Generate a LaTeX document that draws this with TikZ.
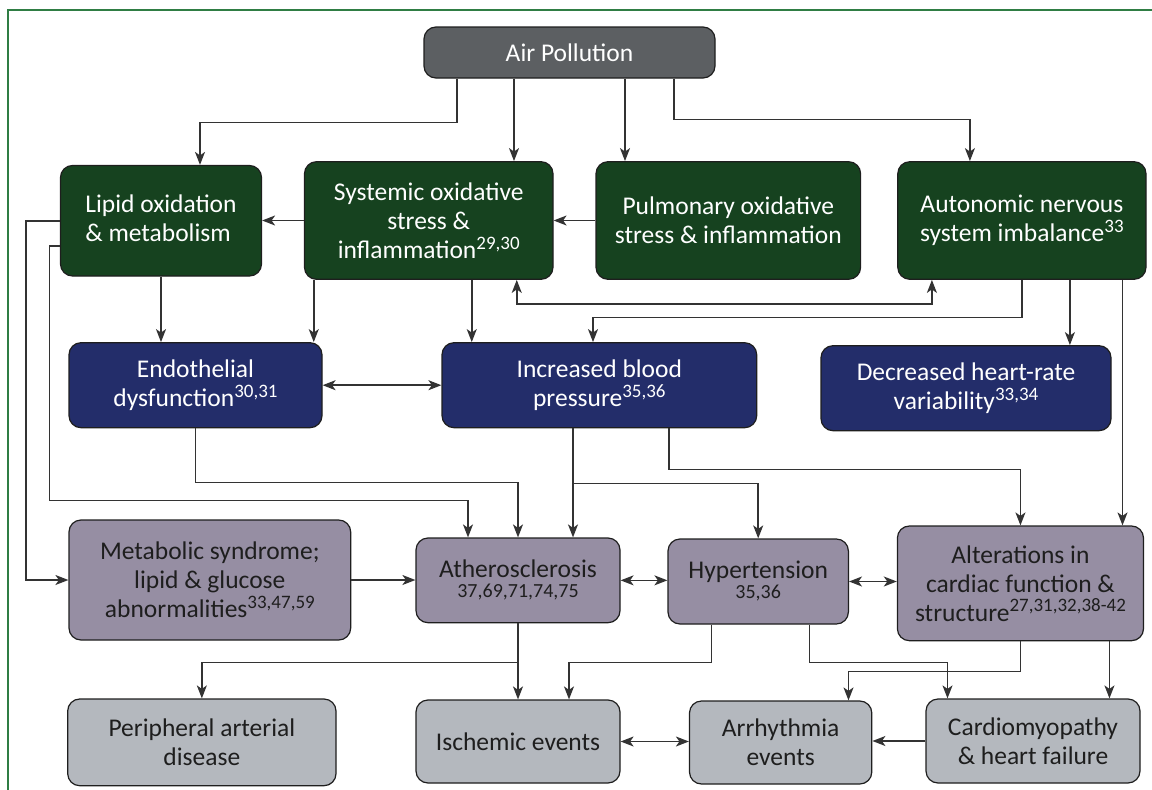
\documentclass[tikz,border=0pt]{standalone}
\usepackage{fontspec}
\setmainfont{Carlito}
\usetikzlibrary{positioning, arrows.meta}
\definecolor{airgray}{HTML}{5C5F62}
\definecolor{darkgreen}{HTML}{16421F}
\definecolor{navyblue}{HTML}{232D6A}
\definecolor{mauve}{HTML}{968EA3}
\definecolor{lightgray}{HTML}{B4B8BE}
\definecolor{boxline}{HTML}{1E1E1E}
\definecolor{linegray}{HTML}{333333}
\definecolor{framegreen}{HTML}{2F7D44}
\newcommand{\refs}[1]{\raisebox{0.36em}{\fontsize{19}{19}\selectfont #1}}

\begin{document}
\begin{tikzpicture}[x=1pt,y=-1pt,
            >={Stealth[length=13pt,width=10pt,inset=3.5pt]},
            box/.style={draw=boxline,line width=1.2pt,rounded corners=12pt,align=center,inner sep=0pt,font=\fontsize{25.5}{29}\selectfont},
            airbox/.style={box,fill=airgray,text=white},
            greenbox/.style={box,fill=darkgreen,text=white},
            bluebox/.style={box,fill=navyblue,text=white},
            mauvebox/.style={box,fill=mauve,text=boxline},
            greybox/.style={box,fill=lightgray,text=boxline},
            arr/.style={->,draw=linegray,line width=1.5pt},
            darr/.style={<->,draw=linegray,line width=1.5pt}]
            \useasboundingbox (0,0) rectangle (1152,790);
            \draw[framegreen,line width=1.5pt] (8,790) -- (8,10) -- (1152,10);

            % nodes, row by row
            \node[airbox, minimum width=291pt, minimum height=51pt] (air) at (569.5,52.5) {Air Pollution};

            \node[greenbox, minimum width=201pt, minimum height=110.5pt] (lipid) at (161,220.75) {\begin{tabular}{@{}l@{}}Lipid oxidation\\ \& metabolism\end{tabular}};
            \node[greenbox, minimum width=248.5pt, minimum height=117.6pt] (systemic) at (428.75,220.5) {Systemic oxidative\\stress \&\\inflammation\refs{29,30}};
            \node[greenbox, minimum width=264.6pt, minimum height=117.6pt] (pulmonary) at (728.3,220.5) {Pulmonary oxidative\\stress \& inflammation};
            \node[greenbox, minimum width=248.2pt, minimum height=117.6pt] (autonomic) at (1021.9,220.5) {Autonomic nervous\\system imbalance\refs{33}};

            \node[bluebox, minimum width=253pt, minimum height=85pt] (endo) at (195.5,385.2) {Endothelial\\dysfunction\refs{30,31}};
            \node[bluebox, minimum width=314.7pt, minimum height=85pt] (bp) at (599.35,385.2) {Increased blood\\pressure\refs{35,36}};
            \node[bluebox, minimum width=290pt, minimum height=85pt] (hrv) at (966,388.2) {Decreased heart-rate\\variability\refs{33,34}};

            \node[mauvebox, minimum width=281.7pt, minimum height=120pt] (metabolic) at (209.85,580) {Metabolic syndrome;\\lipid \& glucose\\abnormalities\refs{33,47,59}};
            \node[mauvebox, minimum width=204pt, minimum height=84.7pt] (ather) at (518,580.35) {Atherosclerosis\\[-9pt]{\fontsize{20}{20}\selectfont 37,69,71,74,75}};
            \node[mauvebox, minimum width=180.4pt, minimum height=85pt] (hyper) at (758.2,581.5) {Hypertension\\[-9pt]{\fontsize{20}{20}\selectfont 35,36}};
            \node[mauvebox, minimum width=246.1pt, minimum height=114.7pt] (alter) at (1020.45,583.35) {Alterations in\\cardiac function \&\\structure\refs{27,31,32,38-42}};

            \node[greybox, minimum width=268.3pt, minimum height=86.7pt] (peripheral) at (201.85,742.35) {Peripheral arterial\\disease};
            \node[greybox, minimum width=204pt, minimum height=83pt] (ischemic) at (518,741.5) {Ischemic events};
            \node[greybox, minimum width=182.3pt, minimum height=83pt] (arrhythmia) at (780.65,742.5) {Arrhythmia\\events};
            \node[greybox, minimum width=214pt, minimum height=84pt] (cardio) at (1033,741) {Cardiomyopathy\\\& heart failure};

            % from air pollution
            \draw[arr] ([xshift=-112.5pt]air.south) -- ++(0,44) -| ([xshift=39pt]lipid.north);
            \draw[arr] ([xshift=-55.5pt]air.south) -- ([xshift=-55.5pt]air.south |- systemic.north);
            \draw[arr] ([xshift=55.5pt]air.south) -- ([xshift=55.5pt]air.south |- pulmonary.north);
            \draw[arr] ([xshift=104.5pt]air.south) -- ++(0,41) -| ([xshift=-52pt]autonomic.north);

            % oxidative stress and autonomic row
            \draw[arr] (systemic.west) -- (systemic.west -| lipid.east);
            \draw[arr] (pulmonary.west) -- (pulmonary.west -| systemic.east);
            \draw[arr] (lipid.west) -- ++(-34,0) |- (metabolic.west);
            \draw[arr] ([yshift=-25.25pt]lipid.west) -- ++(-10.5,0) -- ++(0,254.7) -| ([xshift=-50pt]ather.north);
            \draw[arr] (lipid.south) -- (lipid.south |- endo.north);
            \draw[arr] ([xshift=-115pt]systemic.south) -- ([xshift=-115pt]systemic.south |- endo.north);
            \draw[arr] ([xshift=43pt]systemic.south) -- ([xshift=43pt]systemic.south |- bp.north);
            \draw[darr] ([xshift=88pt]systemic.south) -- ++(0,24) -| ([xshift=-90pt]autonomic.south);
            \draw[arr] (autonomic.south) -- ++(0,37.7) -| ([xshift=-6.35pt]bp.north);
            \draw[arr] ([xshift=48pt]autonomic.south) -- ([xshift=48pt]autonomic.south |- hrv.north);
            \draw[arr] ([xshift=100.6pt]autonomic.south) -- ([xshift=100.6pt]autonomic.south |- alter.north);

            % endothelial and blood pressure row
            \draw[darr] (endo.east) -- (endo.east -| bp.west);
            \draw[arr] (endo.south) -- ++(0,54.3) -| (ather.north);
            \draw[arr] ([xshift=-26.35pt]bp.south) -- ([xshift=-26.35pt]bp.south |- ather.north);
            \draw[arr] ([xshift=-26.35pt]bp.south) -- ++(0,55.3) -| (hyper.north);
            \draw[arr] ([xshift=69.65pt]bp.south) -- ++(0,41.3) -| (alter.north);

            % disease row
            \draw[arr] (metabolic.east) -- (metabolic.east -| ather.west);
            \draw[darr] (ather.east) -- (ather.east -| hyper.west);
            \draw[darr] (hyper.east) -- (hyper.east -| alter.west);

            % events row
            \draw[arr] (ather.south) -- (ather.south |- ischemic.north);
            \draw[arr] (ather.south) -- ++(0,39.3) -| (peripheral.north);
            \draw[arr] ([xshift=-46.6pt]hyper.south) -- ++(0,38) -| ([xshift=51pt]ischemic.north);
            \draw[arr] ([xshift=51.2pt]hyper.south) -- ++(0,38) -| ([xshift=-85.5pt]cardio.north);
            \draw[arr] (alter.south) -- ++(0,30) -| ([xshift=67.85pt]arrhythmia.north);
            \draw[arr] ([xshift=89pt]alter.south) -- ([xshift=89pt]alter.south |- cardio.north);
            \draw[darr] (ischemic.east) -- (ischemic.east -| arrhythmia.west);
            \draw[arr] (cardio.west) -- (cardio.west -| arrhythmia.east);
        \end{tikzpicture}
\end{document}
